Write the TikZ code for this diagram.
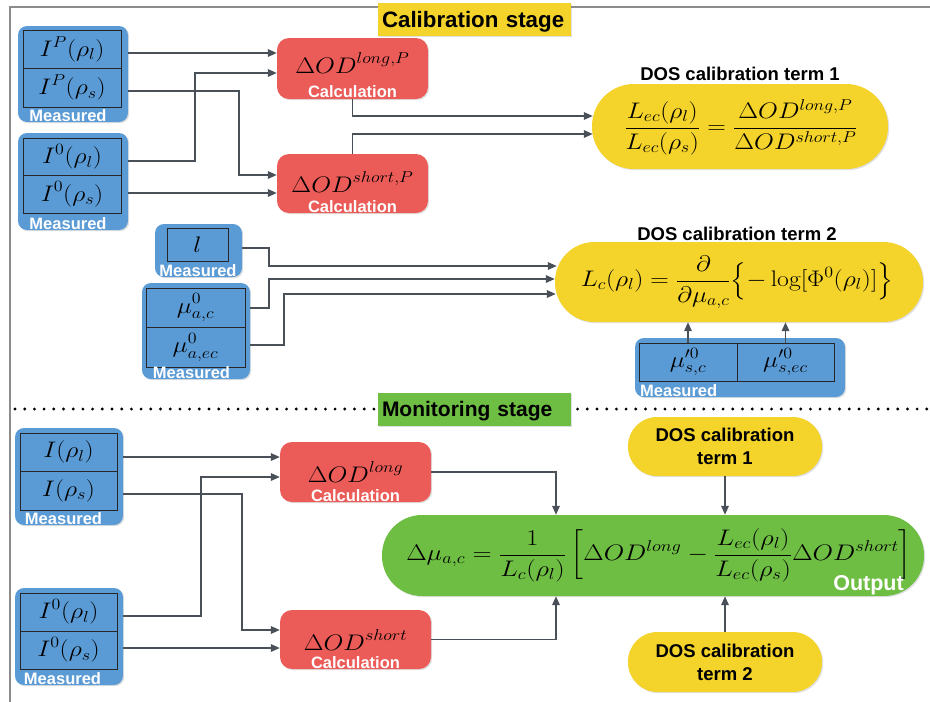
\RequirePackage{fix-cm}
\documentclass[tikz,border=0pt]{standalone}
\usepackage{fontspec}
\setsansfont{Liberation Sans}
\usepackage{amsmath}
\usepackage{graphicx}
\usetikzlibrary{arrows.meta,calc,shadows}
\definecolor{measblue}{RGB}{91,155,213}
\definecolor{calcred}{RGB}{235,91,87}
\definecolor{dosyellow}{RGB}{244,211,43}
\definecolor{outgreen}{RGB}{110,190,68}
\definecolor{wire}{RGB}{74,80,88}
\newcommand{\dod}{\Delta OD}
\newcommand{\mth}[1]{\scalebox{1.14}[1]{$\displaystyle #1$}}

\begin{document}
\begin{tikzpicture}[x=1pt,y=-1pt,
    boxshadow/.style={drop shadow={shadow xshift=1.2pt,shadow yshift=-1.2pt,opacity=.25}},
    meas/.style={boxshadow,fill=measblue,rounded corners=9pt,inner sep=0pt},
    cell/.style={draw=black!85,line width=1pt,fill=measblue,inner sep=0pt,minimum width=98pt,minimum height=38.5pt,font=\fontsize{22.5}{27}\selectfont},
    calcbox/.style={boxshadow,fill=calcred,rounded corners=12pt,minimum width=151pt},
    dosbox/.style={boxshadow,fill=dosyellow},
    lab/.style={white,inner sep=0pt,anchor=base,font=\sffamily\bfseries\fontsize{16.5}{19}\selectfont},
    ttl/.style={inner sep=0pt,align=center,font=\sffamily\bfseries\fontsize{18.5}{23}\selectfont},
    eqn/.style={inner sep=0pt,anchor=base,font=\fontsize{22.5}{27}\selectfont},
    stage/.style={boxshadow,minimum width=193pt,minimum height=33pt,text width=185pt,align=left,inner xsep=4pt,inner ysep=0pt,text depth=0pt,font=\sffamily\bfseries\fontsize{22.3}{26}\selectfont},
    arr/.style={draw=wire,line width=1.8pt,-{Triangle[length=9pt,width=7.5pt]}}]
    \useasboundingbox (0,0) rectangle (930,702);
    \draw[black!45,line width=1.5pt] (10,702) -- (10,7) -- (930,7);
    \draw[black,line width=3.2pt,line cap=round,dash pattern=on 0pt off 9.7pt] (15,409) -- (930,409);
    \node[stage,fill=dosyellow] (calib) at (474.5,19.5) {Calibration stage};
    \node[stage,fill=outgreen,font=\sffamily\bfseries\fontsize{21}{25}\selectfont] (monit) at (474.5,409) {Monitoring stage};

    \node[meas,minimum width=110pt,minimum height=96pt] (mA) at (73,74) {};
    \node[cell] (pA1) at (72,49.25) {\mth{I^P(\rho_l)}};
    \node[cell] (pA2) at (72,87.75) {\mth{I^P(\rho_s)}};
    \node[lab] at (68,121) {Measured};
    \node[meas,minimum width=110pt,minimum height=97pt] (mB) at (73,181.5) {};
    \node[cell,minimum height=37.5pt] (pB1) at (72,156.75) {\mth{I^0(\rho_l)}};
    \node[cell,minimum height=37.5pt] (pB2) at (72,194.25) {\mth{I^0(\rho_s)}};
    \node[lab] at (68,229) {Measured};

    \node[calcbox,minimum height=61pt] (cA) at (352.5,68.5) {};
    \node[eqn] at (352.5,73) {\mth{\dod^{long,P}}};
    \node[lab] at (352.5,97) {Calculation};
    \node[calcbox,minimum height=59pt] (cB) at (352.5,183.5) {};
    \node[eqn] at (352.5,192) {\mth{\dod^{short,P}}};
    \node[lab] at (352.5,212) {Calculation};

    \node[dosbox,minimum width=296pt,minimum height=85pt,rounded corners=42pt] (dosA) at (740,126.5) {};
    \node[ttl,anchor=base] at (740,80) {DOS calibration term 1};
    \node[eqn] at (741,133.6) {\mth{\frac{L_{ec}(\rho_l)}{L_{ec}(\rho_s)}=\frac{\dod^{long,P}}{\dod^{short,P}}}};

    \node[meas,minimum width=87pt,minimum height=53pt] (mE) at (198.5,250.5) {};
    \node[cell,minimum width=61pt,minimum height=33pt] (pE) at (197.5,244.5) {\mth{l}};
    \node[lab] at (198,276) {Measured};
    \node[meas,minimum width=108pt,minimum height=96pt] (mF) at (196,331) {};
    \node[cell,minimum width=99pt,minimum height=39.5pt] (pF1) at (195.5,307.75) {\mth{\mu^0_{a,c}}};
    \node[cell,minimum width=99pt,minimum height=39.5pt] (pF2) at (195.5,347.25) {\mth{\mu^0_{a,ec}}};
    \node[lab] at (191.5,378) {Measured};

    \node[dosbox,minimum width=368pt,minimum height=80pt,rounded corners=39.5pt] (dosB) at (739,282) {};
    \node[ttl,anchor=base] at (737,240) {DOS calibration term 2};
    \node[eqn] at (737,286.6) {\mth{L_c(\rho_l)=\frac{\partial}{\partial\mu_{a,c}}\Bigl\{-\log[\Phi^0(\rho_l)]\Bigr\}}};
    \node[meas,minimum width=210pt,minimum height=59pt] (mG) at (740,367.5) {};
    \node[cell,minimum height=38pt] (pG1) at (688,362) {\mth{\mu'^0_{s,c}}};
    \node[cell,minimum width=97pt,minimum height=38pt] (pG2) at (785.5,362) {\mth{\mu'^0_{s,ec}}};
    \node[lab,anchor=base west] at (640,396) {Measured};

    \node[meas,minimum width=108pt,minimum height=97pt] (mC) at (69,476.5) {};
    \node[cell,minimum width=97pt] (pC1) at (68.5,452.25) {\mth{I(\rho_l)}};
    \node[cell,minimum width=97pt] (pC2) at (68.5,490.75) {\mth{I(\rho_s)}};
    \node[lab] at (63.5,524) {Measured};
    \node[meas,minimum width=108pt,minimum height=97pt] (mD) at (69,636.5) {};
    \node[cell,minimum width=97pt,minimum height=38pt] (pD1) at (68.5,612) {\mth{I^0(\rho_l)}};
    \node[cell,minimum width=97pt,minimum height=38pt] (pD2) at (68.5,650) {\mth{I^0(\rho_s)}};
    \node[lab] at (62.5,684) {Measured};

    \node[calcbox,minimum height=60pt] (cC) at (355.5,472) {};
    \node[eqn] at (355.5,482) {\mth{\dod^{long}}};
    \node[lab] at (355.5,501) {Calculation};
    \node[calcbox,minimum height=59pt] (cD) at (355.5,639.5) {};
    \node[eqn] at (355.5,650) {\mth{\dod^{short}}};
    \node[lab] at (355.5,668) {Calculation};

    \node[dosbox,ttl,minimum width=194pt,minimum height=59pt,rounded corners=29pt] (tA) at (725,446.5) {DOS calibration\\term 1};
    \node[dosbox,ttl,minimum width=194pt,minimum height=60pt,rounded corners=29.5pt] (tB) at (725,662) {DOS calibration\\term 2};
    \node[boxshadow,fill=outgreen,minimum width=542pt,minimum height=81pt,rounded corners=40pt] (res) at (653,555.5) {};
    \node[eqn] at (659,560.6) {\scalebox{1.03}[1]{\mth{\Delta\mu_{a,c}=\frac{1}{L_c(\rho_l)}\left[\dod^{long}-\frac{L_{ec}(\rho_l)}{L_{ec}(\rho_s)}\dod^{short}\right]}}};
    \node[lab,font=\sffamily\bfseries\fontsize{21.5}{25}\selectfont] at (868.5,590) {Output};

    \coordinate (inA1) at ($(cA.west)+(0,-15.5)$);
    \coordinate (inA2) at ($(cA.west)+(0,4.5)$);
    \coordinate (inB1) at ($(cB.west)+(0,-8.5)$);
    \coordinate (inB2) at ($(cB.west)+(0,9.5)$);
    \coordinate (outA) at ($(dosA.west)+(1,-10.5)$);
    \coordinate (outB) at ($(dosA.west)+(1,7.5)$);
    \coordinate (inC1) at ($(dosB.west)+(2,-16)$);
    \coordinate (inC2) at ($(dosB.west)+(0,-3)$);
    \coordinate (inC3) at ($(dosB.west)+(1,12)$);
    \coordinate (inD1) at ($(cC.west)+(0,-15)$);
    \coordinate (inD2) at ($(cC.west)+(0,5)$);
    \coordinate (inE1) at ($(cD.west)+(0,-9.5)$);
    \coordinate (inE2) at ($(cD.west)+(0,8.5)$);

    \draw[arr] (mA.east |- inA1) -- (inA1);
    \draw[arr] ($(pB1.east -| mB.east)+(0,4)$) -- ++(67,0) |- (inA2);
    \draw[arr] ($(pA2.east -| mA.east)+(0,3)$) -- ++(111,0) |- (inB1);
    \draw[arr] (mB.east |- inB2) -- (inB2);
    \draw[arr] (cA.south) |- (outA);
    \draw[arr] (cB.north) |- (outB);
    \draw[arr] ($(pE.east -| mE.east)+(0,3.5)$) -- ++(27,0) |- (inC1);
    \draw[arr] (pF1.east -| mF.east) -- ++(19,0) |- (inC2);
    \draw[arr] ($(pF2.east -| mF.east)+(0,-2)$) -- ++(34,0) |- (inC3);
    \draw[arr] (pG1.north) -- (pG1.north |- dosB.south);
    \draw[arr] (pG2.north) -- (pG2.north |- dosB.south);
    \draw[arr] (mC.east |- inD1) -- (inD1);
    \draw[arr] ($(pD1.east -| mD.east)+(0,4)$) -- ++(78,0) |- (inD2);
    \draw[arr] ($(pC2.east -| mC.east)+(0,3)$) -- ++(119,0) |- (inE1);
    \draw[arr] (mD.east |- inE2) -- (inE2);
    \draw[arr] (cC.east) -| ($(res.north)+(-97,0)$);
    \draw[arr] (cD.east) -| ($(res.south)+(-97,0)$);
    \draw[arr] (tA.south) -- (tA.south |- res.north);
    \draw[arr] (tB.north) -- (tB.north |- res.south);
\end{tikzpicture}
\end{document}
